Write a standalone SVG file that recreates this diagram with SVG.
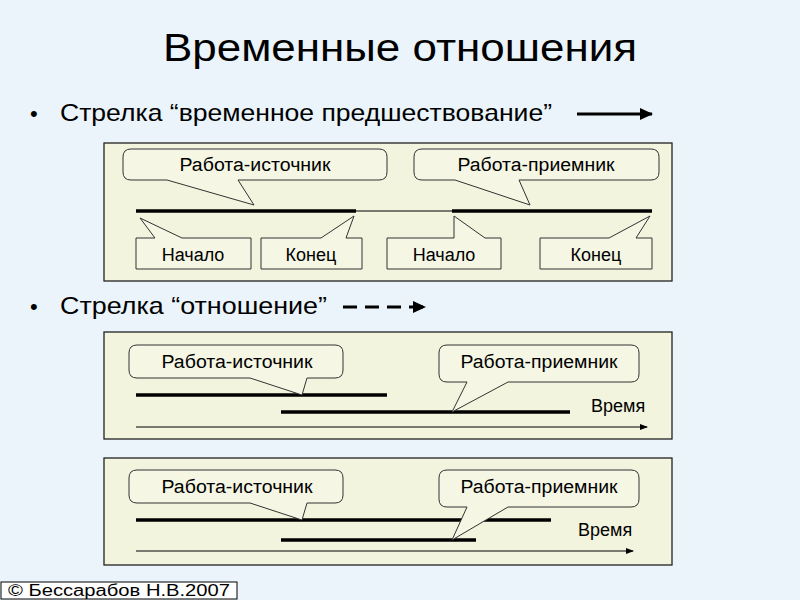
<svg xmlns="http://www.w3.org/2000/svg" width="800" height="600" viewBox="0 0 800 600">
<style>
text{font-family:"Liberation Sans",Arial,sans-serif;fill:#000}
.p{fill:#F2F4DE;stroke:#222;stroke-width:1.3}
.c{fill:#F5F6E4;stroke:#333;stroke-width:1}
.l{font-size:18px;text-anchor:middle}
.t{stroke:#000;stroke-width:3.5}
.th{stroke:#000;stroke-width:1}
</style>
<defs><marker id="ah" markerWidth="8" markerHeight="8" refX="7" refY="4" orient="auto" markerUnits="userSpaceOnUse"><path d="M0,1 L8,4 L0,7z" fill="#000"/></marker>
<marker id="ab" markerWidth="14" markerHeight="12" refX="12" refY="6" orient="auto" markerUnits="userSpaceOnUse"><path d="M0,0 L13,6 L0,12z" fill="#000"/></marker></defs>
<rect width="800" height="600" fill="#EAF4FA"/>
<text x="163" y="61" font-size="38" textLength="474" lengthAdjust="spacingAndGlyphs">Временные отношения</text>
<g id="bullet1"><text x="30" y="121" font-size="22">•</text><text x="60" y="121" font-size="24" textLength="492" lengthAdjust="spacingAndGlyphs">Стрелка “временное предшествование”</text>
<line x1="577" y1="114" x2="652" y2="114" stroke="#000" stroke-width="3" marker-end="url(#ab)"/></g>
<g id="bullet2"><text x="30" y="314" font-size="22">•</text><text x="60" y="314" font-size="24" textLength="267" lengthAdjust="spacingAndGlyphs">Стрелка “отношение”</text>
<line x1="343" y1="307" x2="425" y2="307" stroke="#000" stroke-width="3" stroke-dasharray="14,8" marker-end="url(#ab)"/></g>

<g id="panel1">
<rect class="p" x="104" y="143" width="568" height="138"/>
<g class="connectors">
<line class="t" x1="136" y1="211" x2="356" y2="211"/>
<line class="th" x1="356" y1="211" x2="452" y2="211"/>
<line class="t" x1="452" y1="211" x2="652" y2="211"/>
</g>
<path class="c" d="M131,149 H379 Q387,149 387,157 V172 Q387,180 379,180 H238 L254,205 L167,180 H131 Q123,180 123,172 V157 Q123,149 131,149z"/>
<text class="l" x="255" y="171" textLength="151" lengthAdjust="spacingAndGlyphs">Работа-источник</text>
<path class="c" d="M422,149 H651 Q659,149 659,157 V172 Q659,180 651,180 H519 L530,205 L455,180 H422 Q414,180 414,172 V157 Q414,149 422,149z"/>
<text class="l" x="536" y="171" textLength="157" lengthAdjust="spacingAndGlyphs">Работа-приемник</text>
<path class="c" d="M136,238 H155 L140,218 L182,238 H251 V269 H136z"/>
<text class="l" x="193" y="261">Начало</text>
<path class="c" d="M261,238 H321 L354,216 L346,238 H362 V269 H261z"/>
<text class="l" x="311" y="261">Конец</text>
<path class="c" d="M387,238 H454 V216 L485,238 H501 V269 H387z"/>
<text class="l" x="444" y="261">Начало</text>
<path class="c" d="M540,238 H609 L650,216 L636,238 H652 V269 H540z"/>
<text class="l" x="596" y="261">Конец</text>
</g>

<g id="panel2">
<rect class="p" x="104" y="332" width="568" height="107"/>
<g class="connectors">
<line class="t" x1="136" y1="395" x2="387" y2="395"/>
<line class="t" x1="281" y1="412" x2="570" y2="412"/>
<line class="th" x1="136" y1="427" x2="647" y2="427" marker-end="url(#ah)"/>
</g>
<path class="c" d="M137,345 H335 Q343,345 343,353 V370 Q343,378 335,378 H307 L302,395 L250,378 H137 Q129,378 129,370 V353 Q129,345 137,345z"/>
<text class="l" x="237" y="368" textLength="151" lengthAdjust="spacingAndGlyphs">Работа-источник</text>
<path class="c" d="M447,345 H631 Q639,345 639,353 V374 Q639,382 631,382 H508 L452,412 L467,382 H447 Q439,382 439,374 V353 Q439,345 447,345z"/>
<text class="l" x="539" y="368" textLength="157" lengthAdjust="spacingAndGlyphs">Работа-приемник</text>
<text x="591" y="412" font-size="18">Время</text>
</g>

<g id="panel3">
<rect class="p" x="104" y="458" width="568" height="107"/>
<g class="connectors">
<line class="t" x1="136" y1="520" x2="551" y2="520"/>
<line class="t" x1="281" y1="540" x2="476" y2="540"/>
<line class="th" x1="136" y1="551" x2="633" y2="551" marker-end="url(#ah)"/>
</g>
<path class="c" d="M137,470 H335 Q343,470 343,478 V495 Q343,503 335,503 H307 L302,520 L250,503 H137 Q129,503 129,495 V478 Q129,470 137,470z"/>
<text class="l" x="237" y="493" textLength="151" lengthAdjust="spacingAndGlyphs">Работа-источник</text>
<path class="c" d="M447,470 H631 Q639,470 639,478 V499 Q639,507 631,507 H508 L452,540 L467,507 H447 Q439,507 439,499 V478 Q439,470 447,470z"/>
<text class="l" x="539" y="493" textLength="157" lengthAdjust="spacingAndGlyphs">Работа-приемник</text>
<text x="578" y="536" font-size="18">Время</text>
</g>

<g id="footer"><rect x="1" y="582" width="236" height="17" fill="#fff" stroke="#000"/>
<text x="8" y="596" font-size="16" textLength="222" lengthAdjust="spacingAndGlyphs">© Бессарабов Н.В.2007</text></g>
</svg>
